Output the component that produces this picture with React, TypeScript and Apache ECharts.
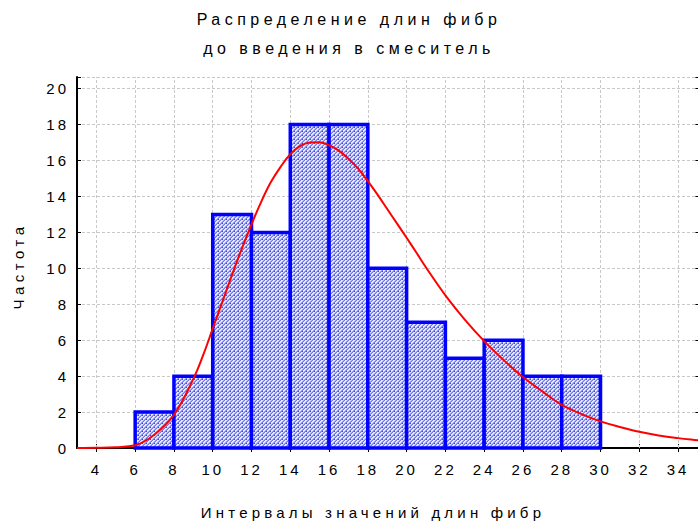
import React, { useEffect, useRef } from "react";
import * as echarts from "echarts";

const titleLines = ["Распределение длин фибр", "до введения в смеситель"];
const xName = "Интервалы значений длин фибр";
const yName = "Частота";

const binStarts = [6, 8, 10, 12, 14, 16, 18, 20, 22, 24, 26, 28];
const binWidth = 2;
const counts = [2, 4, 13, 12, 18, 18, 10, 7, 5, 6, 4, 4];

const curveX = [3, 4, 5, 6, 7, 8, 9, 9.5, 10, 10.5, 11, 11.5, 12, 12.5, 13, 13.5, 14, 14.5, 15, 15.5, 16, 16.5, 17, 17.5, 18, 18.5, 19, 19.5, 20, 20.5, 21, 22, 23, 24, 25, 26, 27, 28, 29, 30, 31, 32, 33, 34, 35, 35.1];
const curveY = [0, 0.01, 0.04, 0.15, 0.75, 1.85, 3.85, 5.15, 6.65, 8.15, 9.65, 11.1, 12.45, 13.7, 14.8, 15.65, 16.35, 16.8, 17.0, 17.02, 16.85, 16.55, 16.1, 15.55, 14.85, 14.1, 13.3, 12.5, 11.7, 10.88, 10.05, 8.5, 7.15, 5.95, 4.9, 3.95, 3.15, 2.4, 1.9, 1.48, 1.17, 0.9, 0.7, 0.55, 0.43, 0.42];

const xTicks = [4, 6, 8, 10, 12, 14, 16, 18, 20, 22, 24, 26, 28, 30, 32, 34];
const yTickStep = 2;
const yTickMax = 20;

const FONT = "'Liberation Sans', Arial, sans-serif";

export default function App() {
  const ref = useRef<HTMLDivElement>(null);
  useEffect(() => {
    const el = ref.current!;
    const chart = echarts.init(el, null, { renderer: "svg" });

    const c = document.createElement("canvas");
    c.width = 4;
    c.height = 4;
    const ctx = c.getContext("2d")!;
    ctx.fillStyle = "#e6e8fe";
    ctx.fillRect(0, 0, 4, 4);
    for (let y = 0; y < 4; y++)
      for (let x = 0; x < 4; x++) {
        const k = (x + y) % 4;
        if (k === 0) {
          ctx.fillStyle = "#6e76f0";
          ctx.fillRect(x, y, 1, 1);
        } else if (k === 3) {
          ctx.fillStyle = "#a0a6f5";
          ctx.fillRect(x, y, 1, 1);
        }
      }
    ctx.fillStyle = "#3a44e8";
    ctx.fillRect(2, 3, 1, 1);
    const pattern: any = { image: c, repeat: "repeat", imageWidth: 4, imageHeight: 4 };

    const axisText = { fontSize: 15, color: "#000", fontFamily: FONT };
    const dash = { type: [3, 2] as any, color: "#c8c8c8", width: 1 };

    const option: any = {
      animation: false,
      backgroundColor: "#fff",
      grid: { left: 77, top: 77, right: 2.6, bottom: 74 },
      xAxis: [
        {
          type: "value",
          min: 3,
          max: 35.1,
          position: "bottom",
          axisLine: { show: true, lineStyle: { color: "#000", width: 2 } },
          axisTick: { show: true, inside: true, length: 4, customValues: xTicks, lineStyle: { color: "#000" } },
          axisLabel: { show: true, customValues: xTicks, margin: 14, ...axisText },
          splitLine: { show: false },
        },
        {
          type: "value",
          min: 3,
          max: 35.1,
          position: "top",
          axisLine: { show: true, lineStyle: { color: "#000", width: 1.5 } },
          axisTick: { show: true, inside: true, length: 4, customValues: xTicks, lineStyle: { color: "#000" } },
          axisLabel: { show: false },
          splitLine: { show: false },
        },
      ],
      yAxis: [
        {
          type: "value",
          min: 0,
          max: 20.65,
          interval: yTickStep,
          position: "left",
          axisLine: { show: true, lineStyle: { color: "#000", width: 2 } },
          axisTick: { show: true, inside: true, length: 4, lineStyle: { color: "#000" } },
          axisLabel: {
            show: true,
            margin: 8,
            ...axisText,
            formatter: (v: number) =>
              Math.abs(v % yTickStep) < 1e-9 && v <= yTickMax ? String(v) : "",
          },
          splitLine: { show: true, lineStyle: dash },
        },
        {
          type: "value",
          min: 0,
          max: 20.65,
          interval: yTickStep,
          position: "right",
          axisLine: { show: true, lineStyle: { color: "#000", width: 1.5 } },
          axisTick: { show: true, inside: true, length: 4, lineStyle: { color: "#000" } },
          axisLabel: { show: false },
          splitLine: { show: false },
        },
      ],
      series: [
        {
          type: "line",
          data: [],
          silent: true,
          z: 1,
          markLine: {
            z: 1,
            silent: true,
            symbol: "none",
            label: { show: false },
            lineStyle: dash,
            data: xTicks.map((v) => ({ xAxis: v })),
          },
        },
        {
          type: "custom",
          z: 2,
          silent: true,
          encode: { x: [0, 1], y: 2 },
          data: binStarts.map((s, i) => [s, s + binWidth, counts[i]]),
          renderItem: (params: any, api: any) => {
            const x0 = api.value(0);
            const x1 = api.value(1);
            const v = api.value(2);
            const p0 = api.coord([x0, v]);
            const p1 = api.coord([x1, 0]);
            return {
              type: "rect",
              shape: { x: p0[0], y: p0[1], width: p1[0] - p0[0], height: p1[1] - p0[1] },
              style: { fill: pattern, stroke: "#0000ff", lineWidth: 3.5 },
            };
          },
        },
        {
          type: "line",
          z: 3,
          silent: true,
          smooth: 0.4,
          showSymbol: false,
          symbol: "none",
          lineStyle: { color: "#ff0000", width: 2 },
          data: curveX.map((x, i) => [x, curveY[i]]),
        },
      ],
      graphic: [
        {
          type: "text",
          x: 349,
          y: 19,
          style: { text: titleLines[0], align: "center", verticalAlign: "middle", font: `16px ${FONT}`, fill: "#000" },
        },
        {
          type: "text",
          x: 349,
          y: 48,
          style: { text: titleLines[1], align: "center", verticalAlign: "middle", font: `16px ${FONT}`, fill: "#000" },
        },
        {
          type: "text",
          x: 373,
          y: 512,
          style: { text: xName, align: "center", verticalAlign: "middle", font: `15px ${FONT}`, fill: "#000" },
        },
        {
          type: "text",
          x: 18,
          y: 266,
          rotation: Math.PI / 2,
          style: { text: yName, align: "center", verticalAlign: "middle", font: `15px ${FONT}`, fill: "#000" },
        },
      ],
    };
    chart.setOption(option);

    el.querySelectorAll("text").forEach((t) => {
      const s = (t.textContent || "").trim();
      const sp = /^\d+$/.test(s) ? "3px" : s === xName ? "4.2px" : "4.5px";
      (t as SVGTextElement).style.letterSpacing = sp;
      t.setAttribute("letter-spacing", sp);
    });

    return () => chart.dispose();
  }, []);

  return (
    <div style={{ position: "fixed", left: 0, top: 0, width: 698, height: 522, overflow: "hidden", background: "#fff" }}>
      <div ref={ref} style={{ width: 702, height: 522 }} />
    </div>
  );
}
